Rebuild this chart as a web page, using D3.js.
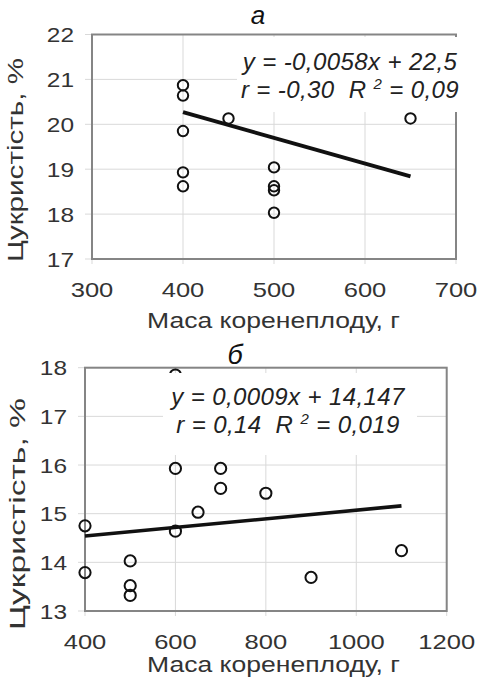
<!DOCTYPE html>
<html>
<head>
<meta charset="utf-8">
<script src="https://cdn.jsdelivr.net/npm/d3@7"></script>
<style>
  body { margin: 0; background: #fff; }
  svg { display: block; }
  text { font-family: "Liberation Sans", Arial, sans-serif; }
</style>
</head>
<body>
<script>

// panel а: root mass vs sugar content
var massA = [400, 400, 400, 400, 400, 450, 500, 500, 500, 500, 650];
var sugarA = [20.87, 20.64, 19.85, 18.93, 18.62, 20.13, 19.04, 18.62, 18.53, 18.03, 20.13];
var trendMassA = [400, 650];
var trendSugarA = [20.27, 18.84];
var xTicksA = [300, 400, 500, 600, 700];
var yTicksA = [17, 18, 19, 20, 21, 22];
var eqLineA = "y = -0,0058x + 22,5";
var rTextA = "r = -0,30  R";
var r2TextA = " = 0,09";

// panel б
var massB = [400, 400, 500, 500, 500, 600, 600, 600, 650, 700, 700, 800, 900, 1100];
var sugarB = [14.75, 13.79, 14.03, 13.52, 13.32, 17.85, 15.93, 14.64, 15.03, 15.93, 15.52, 15.42, 13.69, 14.24];
var trendMassB = [400, 1100];
var trendSugarB = [14.54, 15.16];
var xTicksB = [400, 600, 800, 1000, 1200];
var yTicksB = [13, 14, 15, 16, 17, 18];
var eqLineB = "y = 0,0009x + 14,147";
var rTextB = "r = 0,14  R";
var r2TextB = " = 0,019";

var yTitle = "Цукристість, %";
var xTitle = "Маса коренеплоду, г";

var svg = d3.select("body").append("svg")
  .attr("width", 477)
  .attr("height", 682);

drawPanel({
  letter: "а", letterX: 258, letterY: 24, letterSize: 26,
  left: 92, right: 456, top: 34.5, bottom: 259,
  xs: massA, ys: sugarA, tx: trendMassA, ty: trendSugarA,
  xTicks: xTicksA, yTicks: yTicksA,
  eq: eqLineA, rText: rTextA, r2Text: r2TextA,
  box: [237, 37, 225, 75], eqX: 350, eqY: 70,
  yTitleX: 23, yTitleY: 160, yTitleLen: 204,
  xTitleY: 328, r: 5.2, trendWidth: 4
});

drawPanel({
  letter: "б", letterX: 235, letterY: 364, letterSize: 27,
  left: 85, right: 446.7, top: 367.7, bottom: 611,
  xs: massB, ys: sugarB, tx: trendMassB, ty: trendSugarB,
  xTicks: xTicksB, yTicks: yTicksB,
  eq: eqLineB, rText: rTextB, r2Text: r2TextB,
  box: [163, 373, 254, 82], eqX: 288, eqY: 405,
  yTitleX: 25, yTitleY: 514, yTitleLen: 232,
  xTitleY: 672, r: 5.6, trendWidth: 3.6
});

function drawPanel(c)
{
  var x = d3.scaleLinear()
    .domain(d3.extent(c.xTicks))
    .range([c.left, c.right]);
  var y = d3.scaleLinear()
    .domain(d3.extent(c.yTicks))
    .range([c.bottom, c.top]);

  var g = svg.append("g");

  // grid lines, they stick out a bit to make the ticks
  g.selectAll(".vgrid").data(c.xTicks).enter().append("line")
    .attr("x1", function(d) { return x(d); })
    .attr("x2", function(d) { return x(d); })
    .attr("y1", c.top)
    .attr("y2", c.bottom + 5)
    .attr("stroke", "#d9d9d9")
    .attr("stroke-width", 1);

  g.selectAll(".hgrid").data(c.yTicks).enter().append("line")
    .attr("x1", c.left - 7)
    .attr("x2", c.right)
    .attr("y1", function(d) { return y(d); })
    .attr("y2", function(d) { return y(d); })
    .attr("stroke", "#d9d9d9")
    .attr("stroke-width", 1);

  // frame
  g.append("rect")
    .attr("x", c.left)
    .attr("y", c.top)
    .attr("width", c.right - c.left)
    .attr("height", c.bottom - c.top)
    .attr("fill", "none")
    .attr("stroke", "#858585")
    .attr("stroke-width", 2);

  // tick labels
  g.selectAll(".ylab").data(c.yTicks).enter().append("text")
    .attr("x", c.left - 18)
    .attr("y", function(d) { return y(d) + 7.5; })
    .attr("text-anchor", "end")
    .attr("font-size", 21)
    .attr("fill", "#333")
    .attr("textLength", function(d) { return String(d).length * 13.6; })
    .attr("lengthAdjust", "spacingAndGlyphs")
    .text(function(d) { return d; });

  g.selectAll(".xlab").data(c.xTicks).enter().append("text")
    .attr("x", function(d) { return x(d); })
    .attr("y", c.bottom + 38)
    .attr("text-anchor", "middle")
    .attr("font-size", 21)
    .attr("fill", "#333")
    .attr("textLength", function(d) { return String(d).length * 14.2; })
    .attr("lengthAdjust", "spacingAndGlyphs")
    .text(function(d) { return d; });

  // trend line
  var line = d3.line()
    .x(function(d) { return x(d[0]); })
    .y(function(d) { return y(d[1]); });
  g.append("path")
    .datum(d3.zip(c.tx, c.ty))
    .attr("d", line)
    .attr("fill", "none")
    .attr("stroke", "#111")
    .attr("stroke-width", c.trendWidth);

  // points
  g.selectAll(".pt").data(d3.zip(c.xs, c.ys)).enter().append("circle")
    .attr("cx", function(d) { return x(d[0]); })
    .attr("cy", function(d) { return y(d[1]); })
    .attr("r", c.r)
    .attr("fill", "none")
    .attr("stroke", "#111")
    .attr("stroke-width", 2);

  // white box behind the equation, covers what is under it
  g.append("rect")
    .attr("x", c.box[0])
    .attr("y", c.box[1])
    .attr("width", c.box[2])
    .attr("height", c.box[3])
    .attr("fill", "#fff");

  g.append("text")
    .attr("x", c.eqX)
    .attr("y", c.eqY)
    .attr("text-anchor", "middle")
    .attr("font-size", 24)
    .attr("font-style", "italic")
    .attr("letter-spacing", 0.4)
    .attr("fill", "#222")
    .text(c.eq);

  var rt = g.append("text")
    .attr("x", c.eqX)
    .attr("y", c.eqY + 28)
    .attr("text-anchor", "middle")
    .attr("font-size", 24)
    .attr("font-style", "italic")
    .attr("letter-spacing", 0.4)
    .attr("fill", "#222")
    .style("white-space", "pre");
  rt.append("tspan").text(c.rText + " ");
  rt.append("tspan").attr("dy", -9).attr("font-size", 15).text("2");
  rt.append("tspan").attr("dy", 9).text(c.r2Text);

  // panel letter
  g.append("text")
    .attr("x", c.letterX)
    .attr("y", c.letterY)
    .attr("text-anchor", "middle")
    .attr("font-family", "'Liberation Serif', 'Times New Roman', serif")
    .attr("font-style", "italic")
    .attr("font-size", c.letterSize)
    .attr("fill", "#111")
    .text(c.letter);

  // axis titles
  g.append("text")
    .attr("transform", "translate(" + c.yTitleX + "," + c.yTitleY + ") rotate(-90)")
    .attr("text-anchor", "middle")
    .attr("font-size", 22)
    .attr("fill", "#333")
    .attr("textLength", c.yTitleLen)
    .attr("lengthAdjust", "spacingAndGlyphs")
    .text(yTitle);

  g.append("text")
    .attr("x", 273.5)
    .attr("y", c.xTitleY)
    .attr("text-anchor", "middle")
    .attr("font-size", 22)
    .attr("fill", "#333")
    .attr("textLength", 253)
    .attr("lengthAdjust", "spacingAndGlyphs")
    .text(xTitle);
}
</script>
</body>
</html>
